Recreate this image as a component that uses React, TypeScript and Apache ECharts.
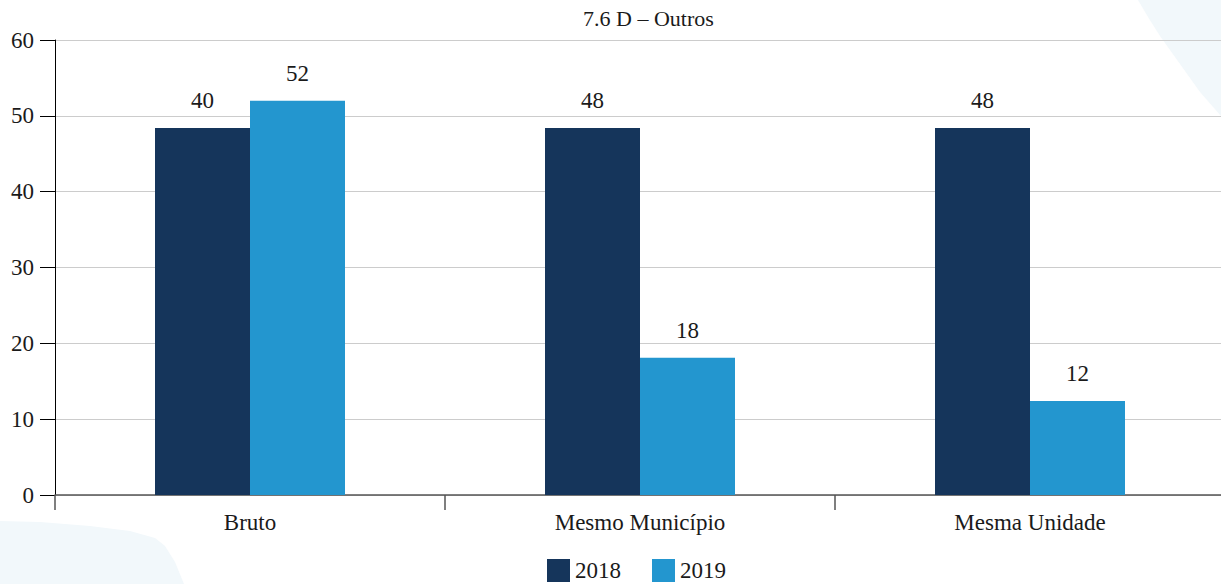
import React, { useEffect, useRef } from "react";
import * as echarts from "echarts";

const categories = ["Bruto", "Mesmo Município", "Mesma Unidade"];
const seriesNames = ["2018", "2019"];
const values2018 = [48.4, 48.4, 48.4];
const values2019 = [52, 18.1, 12.4];
const labels2018 = ["40", "48", "48"];
const labels2019 = ["52", "18", "12"];
const yTicks = { min: 0, max: 60, interval: 10 };
const titleText = "7.6 D – Outros";

const FONT = "Liberation Serif";
const TXT = "#1a1a1a";

export default function App() {
  const ref = useRef<HTMLDivElement>(null);
  useEffect(() => {
    if (!ref.current) return;
    const chart = echarts.init(ref.current, null, { renderer: "svg" });
    const mkLabel = (labels: string[]) => ({
      show: true,
      position: "top",
      distance: 16,
      fontFamily: FONT,
      fontSize: 23,
      color: TXT,
      formatter: (p: any) => labels[p.dataIndex],
    });
    chart.setOption({
      animation: false,
      backgroundColor: "#ffffff",
      textStyle: { fontFamily: FONT },
      title: {
        text: titleText,
        left: 583,
        top: 7,
        padding: 0,
        textStyle: { fontFamily: FONT, fontSize: 22, fontWeight: "normal", color: TXT },
      },
      graphic: [
        {
          type: "polygon",
          z: -10,
          silent: true,
          shape: {
            points: [
              [1138, 0], [1221, 0], [1221, 116], [1200, 92], [1180, 64], [1160, 36], [1148, 17],
            ],
          },
          style: { fill: "#f2f8fb" },
        },
        {
          type: "polygon",
          z: -10,
          silent: true,
          shape: {
            points: [
              [0, 521], [40, 522], [90, 526], [130, 531], [155, 538], [165, 546], [175, 562], [184, 584], [0, 584],
            ],
          },
          style: { fill: "#f2f8fb" },
        },
      ],
      legend: {
        data: seriesNames,
        left: 547,
        top: 559,
        padding: 0,
        itemWidth: 23,
        itemHeight: 23,
        itemGap: 31,
        icon: "rect",
        textStyle: { fontFamily: FONT, fontSize: 23, color: TXT },
      },
      grid: { left: 55, right: 0, top: 40, bottom: 89, containLabel: false },
      xAxis: {
        type: "category",
        data: categories,
        axisLine: { show: true, lineStyle: { color: "#555555", width: 1.5 } },
        axisTick: { show: true, length: 15, lineStyle: { color: "#555555", width: 1.5 } },
        axisLabel: { margin: 16, fontFamily: FONT, fontSize: 23, color: TXT },
      },
      yAxis: {
        type: "value",
        min: yTicks.min,
        max: yTicks.max,
        interval: yTicks.interval,
        axisLine: { show: true, lineStyle: { color: "#000000", width: 1 } },
        axisTick: { show: true, length: 15, lineStyle: { color: "#000000", width: 1 } },
        axisLabel: { margin: 21, fontFamily: FONT, fontSize: 23, color: TXT },
        splitLine: { show: true, lineStyle: { color: "#cccccc", width: 1 } },
      },
      series: [
        {
          name: seriesNames[0],
          type: "bar",
          data: values2018,
          barWidth: 95,
          barGap: "0%",
          itemStyle: { color: "#15355b" },
          label: mkLabel(labels2018),
        },
        {
          name: seriesNames[1],
          type: "bar",
          data: values2019,
          barWidth: 95,
          barGap: "0%",
          itemStyle: { color: "#2396cf" },
          label: mkLabel(labels2019),
        },
      ],
    });
    return () => chart.dispose();
  }, []);
  return (
    <div
      style={{ position: "absolute", left: 0, top: 0, width: 1221, height: 584, overflow: "hidden" }}
    >
      <div ref={ref} style={{ width: 1225, height: 584 }} />
    </div>
  );
}
